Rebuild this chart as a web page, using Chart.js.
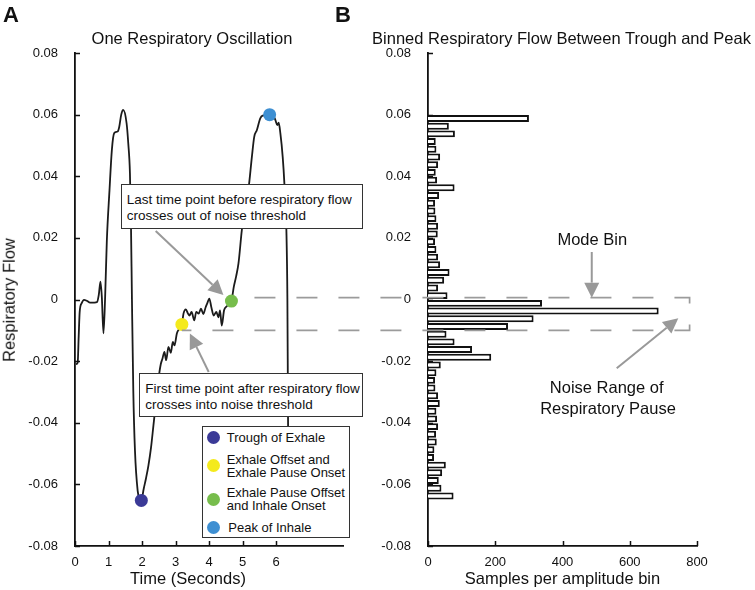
<!DOCTYPE html>
<html>
<head>
<meta charset="utf-8">
<script src="https://cdn.jsdelivr.net/npm/chart.js@4.4.1/dist/chart.umd.min.js"></script>
<style>
  body { margin: 0; background: #fff; font-family: "Liberation Sans", Arial, sans-serif; }
  #wrap { position: relative; width: 755px; height: 590px; overflow: hidden; }
  canvas { position: absolute; top: 0; }
  .t { position: absolute; white-space: nowrap; color: #111; }
  .box { position: absolute; background: #fff; border: 1px solid #333; box-sizing: border-box; }
  .dot { position: absolute; width: 13px; height: 13px; border-radius: 50%; }
</style>
</head>
<body>
<div id="wrap">
  <canvas id="flowChart" width="360" height="590" style="left:0"></canvas>
  <canvas id="histChart" width="395" height="590" style="left:360px"></canvas>
  <canvas id="overlay" width="755" height="590" style="left:0"></canvas>
</div>
<script>
// panel A: one oscillation of respiratory flow
const timeSec = [
  0.03, 0.08, 0.11, 0.14, 0.2, 0.27, 0.35, 0.45, 0.58, 0.66,
  0.71, 0.76, 0.8, 0.85, 0.9, 0.95, 1.03, 1.1, 1.17, 1.27,
  1.32, 1.38, 1.44, 1.54, 1.59, 1.64, 1.67, 1.7, 1.74, 1.79,
  1.87, 1.93, 1.98, 2.05, 2.12, 2.19, 2.27, 2.34, 2.42, 2.49,
  2.56, 2.61, 2.67, 2.72, 2.79, 2.86, 2.92, 2.97, 3.04, 3.12,
  3.19, 3.24, 3.31, 3.37, 3.42, 3.48, 3.56, 3.62, 3.69, 3.76,
  3.83, 3.9, 3.95, 4.01, 4.07, 4.14, 4.22, 4.28, 4.33, 4.38,
  4.45, 4.53, 4.6, 4.67, 4.74, 4.81, 4.88, 4.98, 5.08, 5.18,
  5.28, 5.35, 5.43, 5.53, 5.6, 5.68, 5.75, 5.81, 5.88, 5.93,
  5.98, 6.04, 6.08, 6.13, 6.2, 6.25, 6.31, 6.34, 6.355, 6.37
];
const flow = [
  -0.021, -0.0205, -0.012, -0.004, -0.0012, -0.0001, -0.0004, -0.001, -0.001, -0.0008,
  0.0015, 0.0058, 0.001, -0.011, 0.001, 0.019, 0.0355, 0.0485, 0.054, 0.0545,
  0.056, 0.06, 0.0615, 0.0572, 0.0507, 0.041, 0.025, 0.0, -0.0295, -0.049,
  -0.062, -0.0648, -0.0652, -0.0615, -0.058, -0.054, -0.048, -0.041, -0.033, -0.026,
  -0.021, -0.0192, -0.017, -0.0197, -0.0154, -0.0173, -0.0138, -0.0149, -0.011, -0.0094,
  -0.0081, -0.0045, -0.0032, -0.0045, -0.0052, -0.004, -0.0068, -0.004, -0.0046, -0.003,
  -0.0047, -0.0025, -0.0012, 0.0003, -0.0025, -0.0052, -0.004, -0.0058, -0.0035, -0.0085,
  -0.0035, -0.0022, -0.0015, -0.0005, 0.0041, 0.0075, 0.0117, 0.0225, 0.0306, 0.036,
  0.0463, 0.0528, 0.055, 0.0588, 0.0597, 0.0598, 0.0601, 0.06, 0.0588, 0.0594,
  0.0583, 0.0566, 0.0574, 0.054, 0.0463, 0.0377, 0.0225, 0.0, -0.03, -0.06
];

// marked events on the trace
const eventNames = ['Trough of Exhale', 'Exhale Offset and\nExhale Pause Onset', 'Exhale Pause Offset\nand Inhale Onset', 'Peak of Inhale'];
const eventTimes = [1.98, 3.19, 4.67, 5.81];
const eventFlows = [-0.0652, -0.0081, -0.0005, 0.06];

// noise range of the respiratory pause
const noiseUpper = 0.0006;
const noiseLower = -0.01;

// panel B: histogram of flow amplitudes, bins from peak down to trough
const binCenters = [
  0.05875, 0.05625, 0.05375, 0.05125, 0.04875, 0.04625, 0.04375, 0.04125, 0.03875, 0.03625,
  0.03375, 0.03125, 0.02875, 0.02625, 0.02375, 0.02125, 0.01875, 0.01625, 0.01375, 0.01125,
  0.00875, 0.00625, 0.00375, 0.00125, -0.00125, -0.00375, -0.00625, -0.00875, -0.01125, -0.01375,
  -0.01625, -0.01875, -0.02125, -0.02375, -0.02625, -0.02875, -0.03125, -0.03375, -0.03625, -0.03875,
  -0.04125, -0.04375, -0.04625, -0.04875, -0.05125, -0.05375, -0.05625, -0.05875, -0.06125, -0.06375
];
const binCounts = [
  300, 62, 80, 23, 25, 36, 30, 23, 27, 79,
  33, 21, 22, 25, 30, 29, 21, 25, 30, 36,
  64, 48, 30, 58, 339, 686, 314, 238, 55, 79,
  131, 188, 38, 25, 21, 22, 30, 35, 25, 27,
  30, 24, 26, 19, 18, 53, 42, 32, 40, 76
];

// tick labels
const xTicksA = [0, 1, 2, 3, 4, 5, 6];
const yTicks = [-0.08, -0.06, -0.04, -0.02, 0, 0.02, 0.04, 0.06, 0.08];
const xTicksB = [0, 200, 400, 600, 800];

const eventColors = ['#3b3a97', '#f4ea1c', '#77bd4c', '#3e8fd2'];
const FONT = '"Liberation Sans", Arial, sans-serif';

Chart.defaults.font.family = FONT;
Chart.defaults.font.size = 13;
Chart.defaults.color = '#111';

const fmtFlow = v => Math.abs(v) < 1e-9 ? '0' : v.toFixed(2);

// matlab style ticks pointing into the plot
const inwardTicks = {
  id: 'inwardTicks',
  afterDraw(chart) {
    const { ctx, chartArea } = chart;
    const xs = chart.scales.x, ys = chart.scales.y;
    ctx.save();
    ctx.strokeStyle = '#111';
    ctx.lineWidth = 1.5;
    ctx.beginPath();
    xs.ticks.forEach(t => {
      const px = Math.round(xs.getPixelForValue(t.value)) + 0.5;
      ctx.moveTo(px, chartArea.bottom);
      ctx.lineTo(px, chartArea.bottom - 5);
    });
    ys.ticks.forEach(t => {
      const py = Math.round(ys.getPixelForValue(t.value)) + 0.5;
      ctx.moveTo(chartArea.left, py);
      ctx.lineTo(chartArea.left + 5, py);
    });
    ctx.stroke();
    ctx.restore();
  }
};

function axisY(widthPx) {
  return {
    type: 'linear', min: -0.08, max: 0.08, offset: false,
    grid: { display: false },
    border: { display: true, color: '#111', width: 1.8 },
    afterBuildTicks: s => { s.ticks = yTicks.map(v => ({ value: v })); },
    afterFit: s => { s.width = widthPx; },
    ticks: { padding: 9, callback: fmtFlow }
  };
}

function axisX(max, ticks) {
  return {
    type: 'linear', min: 0, max: max,
    grid: { display: false },
    border: { display: true, color: '#111', width: 1.8 },
    afterBuildTicks: s => { s.ticks = ticks.map(v => ({ value: v })); },
    afterFit: s => { s.height = 40; },
    ticks: { padding: 1, maxRotation: 0 }
  };
}

const flowChart = new Chart(document.getElementById('flowChart'), {
  type: 'scatter',
  data: {
    datasets: [
      {
        label: 'events',
        data: eventTimes.map((t, i) => ({ x: t, y: eventFlows[i] })),
        pointRadius: 6.5,
        pointBackgroundColor: eventColors,
        pointBorderWidth: 0,
        showLine: false,
        order: 0
      },
      {
        label: 'flow',
        data: timeSec.map((t, i) => ({ x: t, y: flow[i] })),
        showLine: true,
        borderColor: '#1b1b1b',
        borderWidth: 1.8,
        pointRadius: 0,
        cubicInterpolationMode: 'monotone',
        order: 1
      }
    ]
  },
  options: {
    responsive: false,
    animation: false,
    events: [],
    layout: { padding: { top: 53, left: 0, right: 17, bottom: 4 } },
    plugins: { legend: { display: false }, tooltip: { enabled: false } },
    scales: { x: axisX(8, xTicksA), y: axisY(75) }
  },
  plugins: [inwardTicks]
});

const histChart = new Chart(document.getElementById('histChart'), {
  type: 'bar',
  data: {
    datasets: [{
      label: 'Samples per amplitude bin',
      data: binCenters.map((c, i) => ({ x: binCounts[i], y: c })),
      backgroundColor: '#ffffff',
      borderColor: '#111',
      borderWidth: 2,
      barPercentage: 0.9,
      categoryPercentage: 1
    }]
  },
  options: {
    indexAxis: 'y',
    responsive: false,
    animation: false,
    events: [],
    layout: { padding: { top: 53, left: 0, right: 58, bottom: 4 } },
    plugins: { legend: { display: false }, tooltip: { enabled: false } },
    scales: { x: axisX(800, xTicksB), y: axisY(68) }
  },
  plugins: [inwardTicks]
});

// ---- text, boxes and legend as html ----
const wrap = document.getElementById('wrap');

function label(text, x, baseline, size, opts = {}) {
  const d = document.createElement('div');
  d.className = 't';
  d.textContent = text;
  d.style.fontSize = size + 'px';
  d.style.lineHeight = size + 'px';
  d.style.top = (baseline - 0.8465 * size) + 'px';
  d.style.left = x + 'px';
  if (opts.bold) d.style.fontWeight = 'bold';
  if (opts.center) d.style.transform = 'translateX(-50%)';
  wrap.appendChild(d);
  return d;
}

function box(x, y, w, h) {
  const b = document.createElement('div');
  b.className = 'box';
  Object.assign(b.style, { left: x + 'px', top: y + 'px', width: w + 'px', height: h + 'px' });
  wrap.appendChild(b);
}

label('A', 3, 22.7, 22, { bold: true });
label('B', 335, 22.7, 22, { bold: true });
label('One Respiratory Oscillation', 192, 43.5, 16.5, { center: true });
label('Binned Respiratory Flow Between Trough and Peak', 561.5, 43.5, 16.5, { center: true });
label('Time (Seconds)', 188, 583.5, 16.5, { center: true });
label('Samples per amplitude bin', 562.5, 583.5, 16.5, { center: true });

const yTitle = document.createElement('div');
yTitle.className = 't';
yTitle.textContent = 'Respiratory Flow';
Object.assign(yTitle.style, {
  fontSize: '16.5px', lineHeight: '16.5px', left: '8.8px', top: '300px',
  transform: 'translate(-50%, -50%) rotate(-90deg)'
});
wrap.appendChild(yTitle);

box(120.7, 183.7, 242, 45.6);
label('Last time point before respiratory flow', 126.7, 204, 13.5);
label('crosses out of noise threshold', 126.7, 220, 13.5);

box(139.3, 373.3, 224, 44);
label('First time point after respiratory flow', 145.3, 393.3, 13.5);
label('crosses into noise threshold', 145.3, 409, 13.5);

label('Mode Bin', 592.3, 245, 16.5, { center: true });
label('Noise Range of', 606.7, 392.8, 16.5, { center: true });
label('Respiratory Pause', 608, 413.5, 16.5, { center: true });

// legend
box(201.7, 425.7, 148.3, 112.6);
const legendRows = [
  { dotY: 437.3, lines: [441.7] },
  { dotY: 465.7, lines: [464, 476.7] },
  { dotY: 499.3, lines: [496.7, 510] },
  { dotY: 527.3, lines: [531.7] }
];
eventNames.forEach((name, i) => {
  const dot = document.createElement('div');
  dot.className = 'dot';
  dot.style.background = eventColors[i];
  dot.style.left = (213.3 - 6.5) + 'px';
  dot.style.top = (legendRows[i].dotY - 6.5) + 'px';
  wrap.appendChild(dot);
  name.split('\n').forEach((ln, k) => label(ln, i === 3 ? 228.3 : 226.7, legendRows[i].lines[k], 13));
});

// ---- dashed noise range and arrows, placed through the chart scales ----
const ov = document.getElementById('overlay').getContext('2d');
const ax = flowChart.scales.x, ay = flowChart.scales.y;
const bx = histChart.scales.x;
const offB = 360;

const yUp = ay.getPixelForValue(noiseUpper);
const yLo = ay.getPixelForValue(noiseLower);
const xGreen = ax.getPixelForValue(eventTimes[2]);
const yGreen = ay.getPixelForValue(eventFlows[2]);
const xYellow = ax.getPixelForValue(eventTimes[1]);
const yYellow = ay.getPixelForValue(eventFlows[1]);
const xEnd = offB + bx.getPixelForValue(778);

ov.save();
ov.strokeStyle = '#9b9b9b';
ov.lineWidth = 1.7;
ov.setLineDash([21, 21]);
ov.lineDashOffset = 21;
ov.beginPath();
ov.moveTo(xGreen + 2, yUp);
ov.lineTo(xEnd, yUp);
ov.lineTo(xEnd, yLo);
ov.lineTo(xYellow, yLo);
ov.stroke();
ov.restore();

function arrow(x1, y1, x2, y2) {
  const ang = Math.atan2(y2 - y1, x2 - x1);
  const hl = 15, hw = 7.5;
  const bxp = x2 - hl * Math.cos(ang), byp = y2 - hl * Math.sin(ang);
  ov.save();
  ov.strokeStyle = '#999';
  ov.fillStyle = '#999';
  ov.lineWidth = 2;
  ov.beginPath();
  ov.moveTo(x1, y1);
  ov.lineTo(bxp, byp);
  ov.stroke();
  ov.beginPath();
  ov.moveTo(x2, y2);
  ov.lineTo(bxp + hw * Math.sin(ang), byp - hw * Math.cos(ang));
  ov.lineTo(bxp - hw * Math.sin(ang), byp + hw * Math.cos(ang));
  ov.closePath();
  ov.fill();
  ov.restore();
}

arrow(155.7, 231, xGreen - 8, yGreen - 6);
arrow(208.7, 372, xYellow + 8, yYellow + 9);
const xMode = offB + bx.getPixelForValue(487);
arrow(xMode, 252, xMode, yUp);
arrow(616.7, 368.3, 678.3, 318.3);
</script>
</body>
</html>
